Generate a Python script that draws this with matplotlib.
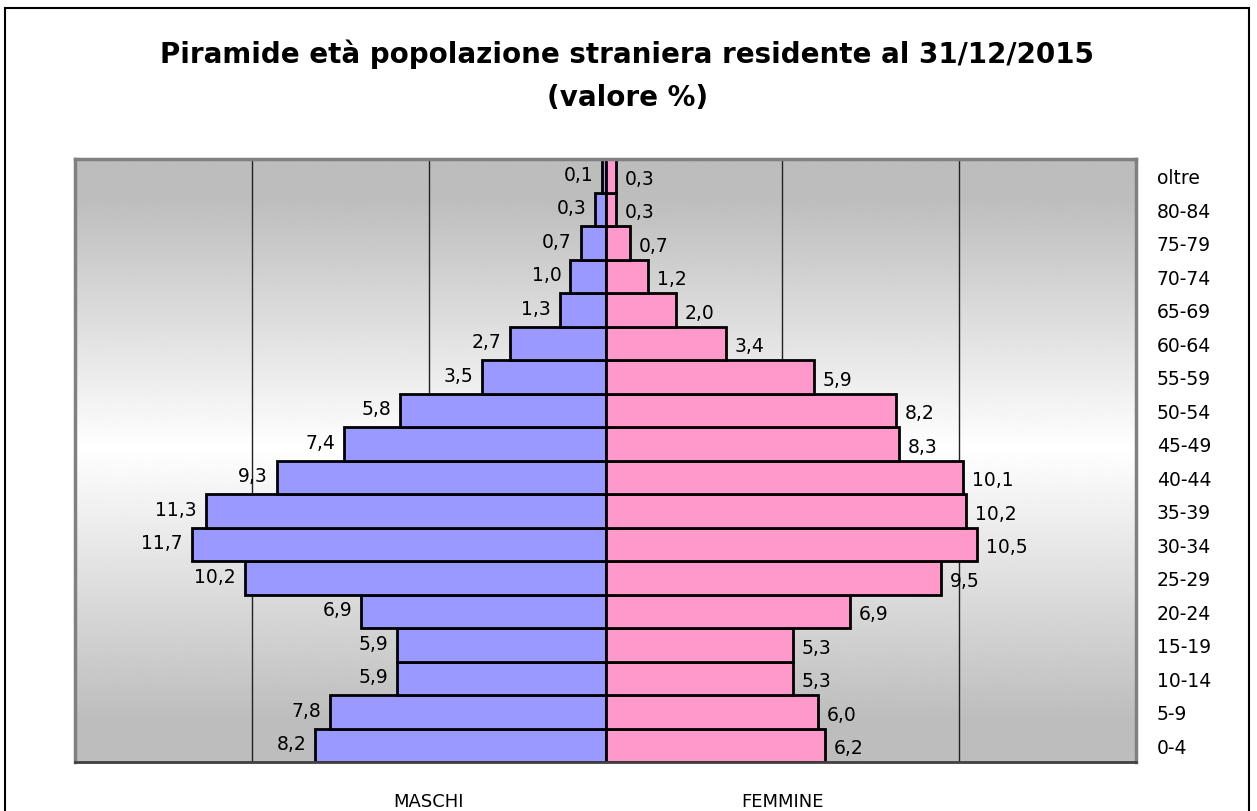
import numpy as np
import matplotlib
matplotlib.use("Agg")
import matplotlib.pyplot as plt
from matplotlib.colors import LinearSegmentedColormap
from matplotlib.patches import Rectangle
import matplotlib.transforms as mtransforms

categories = ["0-4", "5-9", "10-14", "15-19", "20-24", "25-29", "30-34", "35-39",
              "40-44", "45-49", "50-54", "55-59", "60-64", "65-69", "70-74",
              "75-79", "80-84", "oltre"]
maschi = [8.2, 7.8, 5.9, 5.9, 6.9, 10.2, 11.7, 11.3, 9.3, 7.4, 5.8, 3.5, 2.7,
          1.3, 1.0, 0.7, 0.3, 0.1]
femmine = [6.2, 6.0, 5.3, 5.3, 6.9, 9.5, 10.5, 10.2, 10.1, 8.3, 8.2, 5.9, 3.4,
           2.0, 1.2, 0.7, 0.3, 0.3]
title_line1 = "Piramide età popolazione straniera residente al 31/12/2015"
title_line2 = "(valore %)"
gridlines = [-10, -5, 5, 10]

W, H = 1257, 812
fig = plt.figure(figsize=(W / 100, H / 100), dpi=100)
fig.patch.set_facecolor("white")

L, R, T, B = 75, 1136, 160, 763
ax = fig.add_axes([L / W, 1 - B / H, (R - L) / W, (B - T) / H])

ymin, ymax = -0.5, len(categories) - 0.5
xmin, xmax = -15, 15

# vertical gradient background
n = 400
t = np.linspace(0, 1, n)  # 0 bottom, 1 top
c = 0.52
d = np.where(t < c, (c - t) / c, (t - c) / (1 - c))
shade = 1.0 - 0.26 * np.clip(d * 1.15, 0, 1)
img = shade[:, None]
cmap = LinearSegmentedColormap.from_list("g", ["black", "white"])
ax.imshow(img, extent=[xmin, xmax, ymin, ymax], origin="lower", aspect="auto",
          cmap=cmap, vmin=0, vmax=1, zorder=0, interpolation="bilinear")

for g in gridlines:
    ax.axvline(g, color="#222222", lw=1.0, zorder=1)

y = np.arange(len(categories))
ax.barh(y, [-v for v in maschi], height=1.0, color="#9999FF", edgecolor="black",
        linewidth=2, zorder=2)
ax.barh(y, femmine, height=1.0, color="#FF99CC", edgecolor="black",
        linewidth=2, zorder=2)

fs = 13.5
for yi, v in zip(y, maschi):
    s = f"{v:.1f}".replace(".", ",")
    ax.text(-v - 0.25, yi + 0.05, s, ha="right", va="center", fontsize=fs, zorder=3)
for yi, v in zip(y, femmine):
    s = f"{v:.1f}".replace(".", ",")
    ax.text(v + 0.25, yi - 0.08, s, ha="left", va="center", fontsize=fs, zorder=3)

ax.set_xlim(xmin, xmax)
ax.set_ylim(ymin, ymax)
ax.set_xticks([])
ax.set_yticks(y)
ax.set_yticklabels(categories, fontsize=fs)
ax.yaxis.tick_right()
ax.tick_params(axis="y", length=0, pad=15)
for lbl in ax.get_yticklabels():
    lbl.set_horizontalalignment("left")

for side in ["left", "top", "right"]:
    ax.spines[side].set_color("#808080")
    ax.spines[side].set_linewidth(2.5)
ax.spines["bottom"].set_color("#404040")
ax.spines["bottom"].set_linewidth(2)

fig.text(0.499, 1 - 54 / H, title_line1, ha="center", va="center",
         fontsize=20, fontweight="bold")
fig.text(0.499, 1 - 98 / H, title_line2, ha="center", va="center",
         fontsize=20, fontweight="bold")

trans = mtransforms.blended_transform_factory(ax.transData, fig.transFigure)
ax.text(-5, 1 - 802 / H, "MASCHI", transform=trans, ha="center", va="center",
        fontsize=13)
ax.text(5, 1 - 802 / H, "FEMMINE", transform=trans, ha="center", va="center",
        fontsize=13)

fig.add_artist(Rectangle((5 / W, -0.1), (1249 - 5) / W, 1.1 - 9 / H,
                         transform=fig.transFigure, fill=False,
                         edgecolor="black", linewidth=1.5))

fig.savefig("out.png", dpi=100)
